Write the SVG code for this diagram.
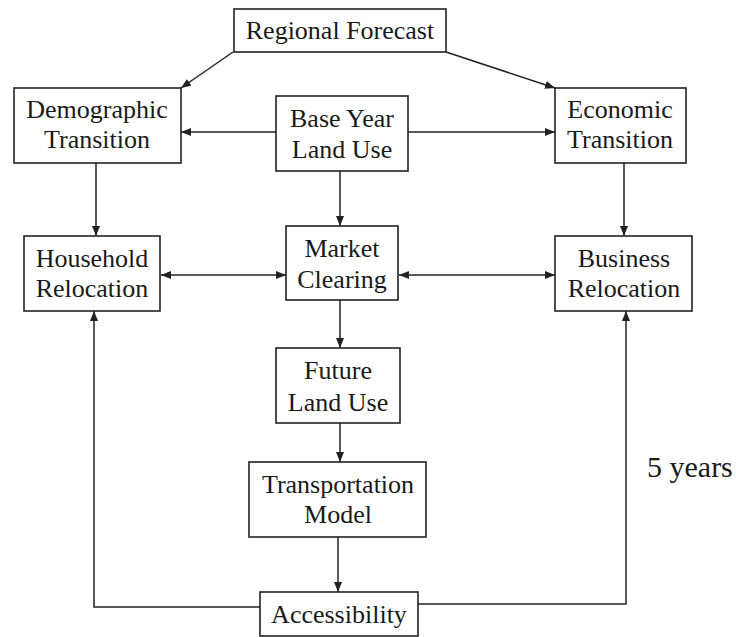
<svg xmlns="http://www.w3.org/2000/svg" width="736" height="637" viewBox="0 0 736 637">
<defs>
<style>
.box{fill:#fff;stroke:#222;stroke-width:1.6}
.t{font-family:"Liberation Serif","Times New Roman",serif;font-size:26px;fill:#1a1a1a;text-anchor:middle}
.c{fill:none;stroke:#222;stroke-width:1.5}
</style>
<marker id="ah" viewBox="0 0 10 8" refX="10" refY="4" markerWidth="10" markerHeight="8" markerUnits="userSpaceOnUse" orient="auto-start-reverse">
<path d="M0,0 L10,4 L0,8 Z" fill="#222"/>
</marker>
</defs>
<rect width="736" height="637" fill="#fff"/>
<g id="connectors">
<line class="c" x1="233" y1="52" x2="181" y2="88" marker-end="url(#ah)"/>
<line class="c" x1="446" y1="52" x2="555" y2="88" marker-end="url(#ah)"/>
<line class="c" x1="276" y1="132" x2="181" y2="132" marker-end="url(#ah)"/>
<line class="c" x1="408" y1="132" x2="555" y2="132" marker-end="url(#ah)"/>
<line class="c" x1="96" y1="163" x2="96" y2="236" marker-end="url(#ah)"/>
<line class="c" x1="340" y1="171" x2="340" y2="226" marker-end="url(#ah)"/>
<line class="c" x1="624" y1="163" x2="624" y2="236" marker-end="url(#ah)"/>
<line class="c" x1="161" y1="275" x2="286" y2="275" marker-start="url(#ah)" marker-end="url(#ah)"/>
<line class="c" x1="399" y1="275" x2="555" y2="275" marker-start="url(#ah)" marker-end="url(#ah)"/>
<line class="c" x1="340" y1="300" x2="340" y2="348" marker-end="url(#ah)"/>
<line class="c" x1="340" y1="423" x2="340" y2="462" marker-end="url(#ah)"/>
<line class="c" x1="338" y1="537" x2="338" y2="592" marker-end="url(#ah)"/>
<polyline class="c" points="260,607 94,607 94,311" marker-end="url(#ah)"/>
<polyline class="c" points="418,604 626,604 626,311" marker-end="url(#ah)"/>
</g>
<g id="regional-forecast"><rect class="box" x="234" y="9" width="212" height="43"/><text class="t" x="340" y="39">Regional Forecast</text></g>
<g id="demographic-transition"><rect class="box" x="14" y="88" width="167" height="75"/><text class="t" x="97" y="118">Demographic</text><text class="t" x="97" y="148">Transition</text></g>
<g id="base-year-land-use"><rect class="box" x="276" y="96" width="132" height="75"/><text class="t" x="342" y="127">Base Year</text><text class="t" x="342" y="158">Land Use</text></g>
<g id="economic-transition"><rect class="box" x="555" y="88" width="131" height="75"/><text class="t" x="620" y="118">Economic</text><text class="t" x="620" y="148">Transition</text></g>
<g id="household-relocation"><rect class="box" x="24" y="236" width="136" height="75"/><text class="t" x="92" y="267">Household</text><text class="t" x="92" y="297">Relocation</text></g>
<g id="market-clearing"><rect class="box" x="286" y="226" width="112" height="74"/><text class="t" x="342" y="257">Market</text><text class="t" x="342" y="288">Clearing</text></g>
<g id="business-relocation"><rect class="box" x="555" y="236" width="137" height="75"/><text class="t" x="624" y="267">Business</text><text class="t" x="624" y="297">Relocation</text></g>
<g id="future-land-use"><rect class="box" x="276" y="348" width="124" height="75"/><text class="t" x="338" y="379">Future</text><text class="t" x="338" y="411">Land Use</text></g>
<g id="transportation-model"><rect class="box" x="249" y="462" width="177" height="75"/><text class="t" x="338" y="493">Transportation</text><text class="t" x="338" y="523">Model</text></g>
<g id="accessibility"><rect class="box" x="260" y="592" width="158" height="44"/><text class="t" x="339" y="623">Accessibility</text></g>
<text x="647" y="477" style="font-family:'Liberation Serif','Times New Roman',serif;font-size:30px;fill:#1a1a1a">5 years</text>
</svg>
